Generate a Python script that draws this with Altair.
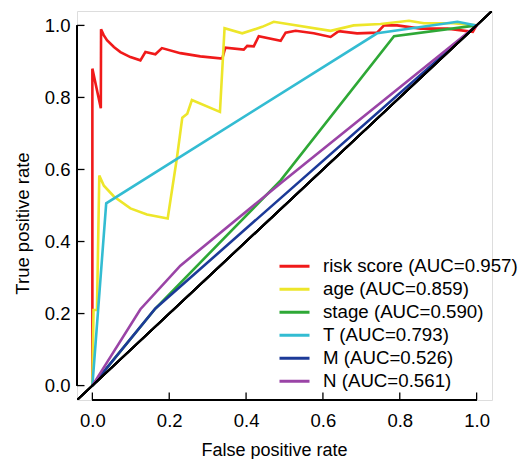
import altair as alt
import pandas as pd

# ---- data ----
labels = ["risk score (AUC=0.957)", "age (AUC=0.859)", "stage (AUC=0.590)",
          "T (AUC=0.793)", "M (AUC=0.526)", "N (AUC=0.561)"]
colors = ["#F01A1A", "#EDE62A", "#2EA836", "#33BCD2", "#1C3A98", "#9A44A6"]

risk_fpr = [0, 0, 0, 0.022, 0.0226, 0.0295, 0.038, 0.056, 0.073, 0.099, 0.125, 0.138, 0.164, 0.181,
            0.229, 0.281, 0.338, 0.346, 0.394, 0.403, 0.42, 0.433, 0.49, 0.503, 0.529, 0.576, 0.62,
            0.641, 0.689, 0.741, 0.759, 0.793, 0.854, 0.924, 0.99, 1.0]
risk_tpr = [0, 0.22, 0.88, 0.77, 0.989, 0.973, 0.959, 0.94, 0.926, 0.912, 0.903, 0.926, 0.92, 0.937,
            0.923, 0.914, 0.908, 0.938, 0.933, 0.943, 0.942, 0.970, 0.957, 0.98, 0.985, 0.978, 0.968,
            0.984, 0.978, 0.98, 1.0, 1.0, 0.991, 0.991, 0.982, 1.0]

age_fpr = [0, 0.003, 0.012, 0.018, 0.03, 0.056, 0.099, 0.142, 0.196, 0.22, 0.234, 0.247, 0.259, 0.332,
           0.344, 0.39, 0.442, 0.472, 0.62, 0.68, 0.75, 0.824, 0.863, 0.94, 1.0]
age_tpr = [0, 0.21, 0.21, 0.583, 0.555, 0.525, 0.492, 0.475, 0.464, 0.632, 0.744, 0.755, 0.793, 0.760,
           0.992, 0.978, 0.996, 1.01, 0.985, 1.0, 1.004, 1.013, 1.006, 1.006, 1.0]

stage_fpr = [0, 0.164, 0.49, 0.785, 1.0]
stage_tpr = [0, 0.214, 0.57, 0.97, 1.0]

t_fpr = [0, 0.036, 0.741, 0.95, 1.0]
t_tpr = [0, 0.506, 0.978, 1.01, 1.0]

m_fpr = [0, 0.164, 1.0]
m_tpr = [0, 0.214, 1.0]

n_fpr = [0, 0.125, 0.229, 0.49, 1.0]
n_tpr = [0, 0.212, 0.333, 0.562, 1.0]

tick_values = [0.0, 0.2, 0.4, 0.6, 0.8, 1.0]

series = [(risk_fpr, risk_tpr), (age_fpr, age_tpr), (stage_fpr, stage_tpr),
          (t_fpr, t_tpr), (m_fpr, m_tpr), (n_fpr, n_tpr)]

rows = []
for k, (lab, (fx, ty)) in enumerate(zip(labels, series)):
    for i, (a, b) in enumerate(zip(fx, ty)):
        rows.append({"fpr": a, "tpr": b, "series": lab, "idx": i, "layer": k})
df = pd.DataFrame(rows)
ticks_df = pd.DataFrame({"t": tick_values})

W, H = 415, 389
LO, HI = -0.04, 1.04
FONT = "Liberation Sans"

xs = alt.Scale(domain=[LO, HI], nice=False, zero=False)
ys = alt.Scale(domain=[LO, HI], nice=False, zero=False)

x_axis = alt.Axis(values=tick_values, format=".1f", domain=False, ticks=False, tickSize=0,
                  grid=False, labelFontSize=18.5, labelFont=FONT, labelColor="black",
                  labelPadding=11, labelFlush=False, labelOverlap=False,
                  title="False positive rate", titleFont=FONT, titleFontSize=18,
                  titleFontWeight="normal", titleColor="black", titleX=197, titleY=55,
                  titleBaseline="alphabetic", titleAlign="center")
y_axis = alt.Axis(values=tick_values, format=".1f", domain=False, ticks=False, tickSize=0,
                  grid=False, labelFontSize=18.5, labelFont=FONT, labelColor="black",
                  labelPadding=7, labelFlush=False, labelOverlap=False, labelBaseline="middle",
                  title="True positive rate", titleFont=FONT, titleFontSize=18.5,
                  titleFontWeight="normal", titleColor="black", titleX=-49, titleY=212,
                  titleBaseline="alphabetic", titleAlign="center", titleAngle=270)

lines = alt.Chart(df).mark_line(strokeWidth=2.6, clip=True).encode(
    x=alt.X("fpr:Q", scale=xs, axis=x_axis),
    y=alt.Y("tpr:Q", scale=ys, axis=y_axis),
    color=alt.Color("series:N",
                    scale=alt.Scale(domain=labels, range=colors),
                    sort=labels,
                    legend=alt.Legend(orient="none", legendX=201, legendY=244, title=None,
                                      symbolType="stroke", symbolSize=900, symbolStrokeWidth=3,
                                      clipHeight=22.6, rowPadding=0, padding=0,
                                      labelFontSize=18.7, labelFont=FONT, labelColor="black",
                                      labelOffset=12, labelLimit=400)),
    detail="layer:N",
    order="idx:Q",
)

diag = alt.Chart(ticks_df).mark_rule(color="black", strokeWidth=2, clip=True).encode(
    x=alt.datum(LO), y=alt.datum(LO), x2=alt.datum(HI), y2=alt.datum(HI)
)

x_line = alt.Chart(ticks_df).mark_rule(color="black", strokeWidth=1.3).encode(
    x=alt.datum(0.0), x2=alt.datum(1.0), y=alt.value(H)
)
y_line = alt.Chart(ticks_df).mark_rule(color="black", strokeWidth=1.3).encode(
    y=alt.datum(0.0), y2=alt.datum(1.0), x=alt.value(0)
)
x_ticks = alt.Chart(ticks_df).mark_rule(color="black", strokeWidth=1.3).encode(
    x=alt.X("t:Q", scale=xs), y=alt.value(H), y2=alt.value(H - 7.5)
)
y_ticks = alt.Chart(ticks_df).mark_rule(color="black", strokeWidth=1.3).encode(
    y=alt.Y("t:Q", scale=ys), x=alt.value(0), x2=alt.value(7.5)
)

chart = alt.layer(lines, diag, x_line, y_line, x_ticks, y_ticks).properties(
    width=W, height=H,
    autosize=alt.AutoSizeParams(type="none"),
    padding={"left": 69, "top": 3, "right": 26, "bottom": 60},
).configure_view(stroke=None).configure(font=FONT)

chart.save("out.html", embed_options={"renderer": "svg", "actions": False})
